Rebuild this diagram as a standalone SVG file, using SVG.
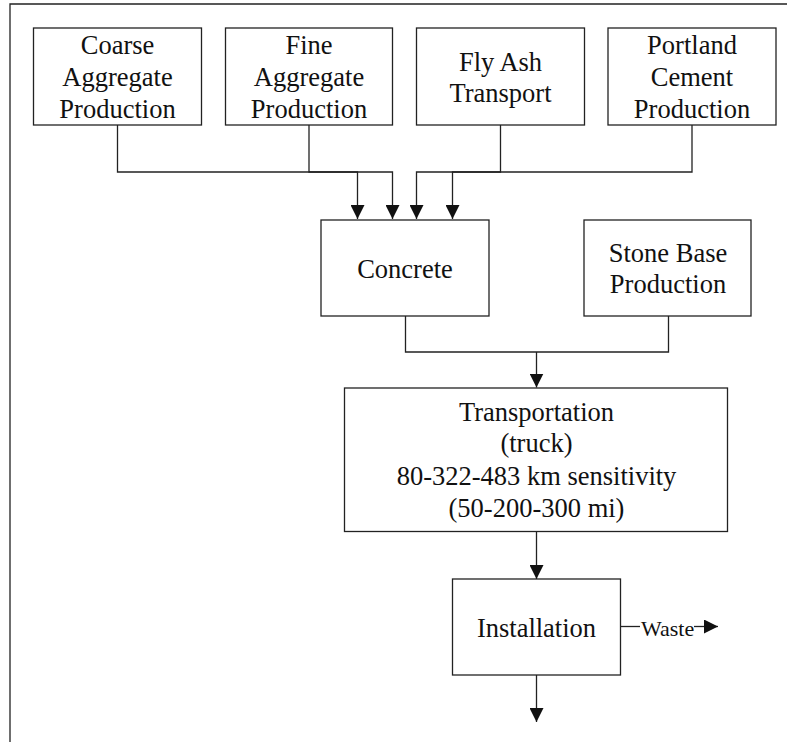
<svg xmlns="http://www.w3.org/2000/svg" width="787" height="742" viewBox="0 0 787 742">
  <style>
    .box { fill: #ffffff; stroke: #222222; stroke-width: 1.3; }
    .wire { fill: none; stroke: #222222; stroke-width: 1.3; }
    .lbl { font-family: "Liberation Serif", "Times New Roman", serif; font-size: 26.5px; fill: #111111; text-anchor: middle; }
    .small { font-family: "Liberation Serif", "Times New Roman", serif; font-size: 22px; fill: #111111; }
  </style>
  <defs>
    <marker id="arrow" viewBox="0 0 14 14" refX="14" refY="7" markerWidth="14" markerHeight="14" markerUnits="userSpaceOnUse" orient="auto">
      <path d="M0,0 L14,7 L0,14 Z" fill="#111111"/>
    </marker>
  </defs>
  <rect width="787" height="742" fill="#ffffff"/>

  <!-- frame -->
  <path class="wire" d="M10,742 L10,4 L787,4"/>

  <!-- connectors -->
  <g id="connectors">
    <path class="wire" d="M117.5,125 V172 H357.5 V219" marker-end="url(#arrow)"/>
    <path class="wire" d="M309,125 V172 H392.5 V219" marker-end="url(#arrow)"/>
    <path class="wire" d="M500.5,125 V172 H416.5 V219" marker-end="url(#arrow)"/>
    <path class="wire" d="M692,125 V172 H452.5 V219" marker-end="url(#arrow)"/>
    <path class="wire" d="M405.5,316 V352 H668.5 V316"/>
    <path class="wire" d="M536.5,352 V387.5" marker-end="url(#arrow)"/>
    <path class="wire" d="M536.5,531.5 V579" marker-end="url(#arrow)"/>
    <path class="wire" d="M536.5,675 V722" marker-end="url(#arrow)"/>
    <path class="wire" d="M620.5,626.5 H640"/>
    <path class="wire" d="M694,626.5 H718" marker-end="url(#arrow)"/>
    <text class="small" x="641" y="635.5">Waste</text>
  </g>

  <g id="coarse-aggregate">
    <rect class="box" x="33.5" y="28" width="168" height="97"/>
    <text class="lbl" x="117.5" y="54">Coarse</text>
    <text class="lbl" x="117.5" y="86">Aggregate</text>
    <text class="lbl" x="117.5" y="118">Production</text>
  </g>

  <g id="fine-aggregate">
    <rect class="box" x="225.5" y="28" width="167" height="97"/>
    <text class="lbl" x="309" y="54">Fine</text>
    <text class="lbl" x="309" y="86">Aggregate</text>
    <text class="lbl" x="309" y="118">Production</text>
  </g>

  <g id="fly-ash">
    <rect class="box" x="416.5" y="28" width="168" height="97"/>
    <text class="lbl" x="500.5" y="70.5">Fly Ash</text>
    <text class="lbl" x="500.5" y="102">Transport</text>
  </g>

  <g id="portland-cement">
    <rect class="box" x="608" y="28" width="168" height="97"/>
    <text class="lbl" x="692" y="54">Portland</text>
    <text class="lbl" x="692" y="86">Cement</text>
    <text class="lbl" x="692" y="118">Production</text>
  </g>

  <g id="concrete">
    <rect class="box" x="321" y="220" width="168" height="96"/>
    <text class="lbl" x="405" y="278">Concrete</text>
  </g>

  <g id="stone-base">
    <rect class="box" x="584" y="220" width="167" height="96"/>
    <text class="lbl" x="668" y="261.5">Stone Base</text>
    <text class="lbl" x="668" y="293">Production</text>
  </g>

  <g id="transportation">
    <rect class="box" x="344.5" y="388" width="383" height="143.5"/>
    <text class="lbl" x="536.5" y="421">Transportation</text>
    <text class="lbl" x="536.5" y="452">(truck)</text>
    <text class="lbl" x="536.5" y="485">80-322-483 km sensitivity</text>
    <text class="lbl" x="536.5" y="516.5">(50-200-300 mi)</text>
  </g>

  <g id="installation">
    <rect class="box" x="452.5" y="579" width="168" height="96"/>
    <text class="lbl" x="536.5" y="636.5">Installation</text>
  </g>
</svg>
